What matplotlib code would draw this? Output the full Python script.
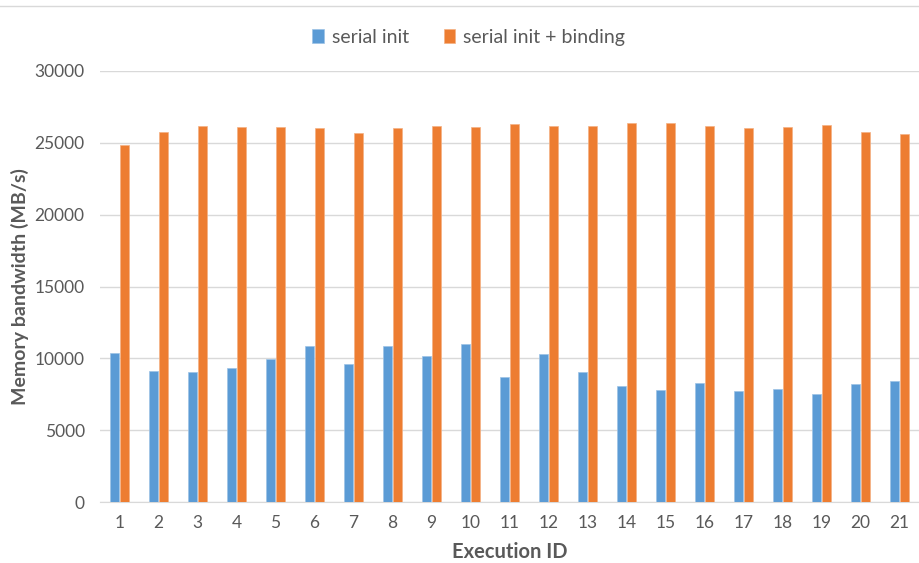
import numpy as np
import matplotlib.pyplot as plt
from matplotlib.lines import Line2D

ids = [str(i) for i in range(1, 22)]
serial_init = [10375, 9150, 9030, 9335, 9980, 10830, 9610, 10880, 10165, 11000, 8710,
               10280, 9080, 8060, 7780, 8250, 7740, 7880, 7485, 8225, 8455]
serial_binding = [24830, 25740, 26150, 26090, 26130, 26040, 25710, 26040, 26150, 26090, 26340,
                  26200, 26150, 26410, 26360, 26150, 26040, 26090, 26270, 25780, 25620]

plt.rcParams['font.family'] = ['Lato', 'DejaVu Sans']
text_color = '#595959'

fig = plt.figure(figsize=(9.19, 5.63), dpi=100)
ax = fig.add_axes([0.1088, 0.1083, 0.8912, 0.7656])

x = np.arange(len(ids))
w = 0.23
ax.bar(x - 0.135, serial_init, w, color='#5B9BD5', edgecolor='#9DC3E6', linewidth=0.5,
       label='serial init', zorder=3)
ax.bar(x + 0.135, serial_binding, w, color='#ED7D31', edgecolor='#F4B183', linewidth=0.5,
       label='serial init + binding', zorder=3)

ax.set_xlim(-0.5, len(ids) - 0.5)
ax.set_ylim(0, 30000)
ax.set_yticks(range(0, 30001, 5000))
ax.set_xticks(x)
ax.set_xticklabels(ids)
ax.yaxis.grid(True, color='#D9D9D9', linewidth=1, zorder=0)
for s in ['top', 'right', 'left']:
    ax.spines[s].set_visible(False)
ax.spines['bottom'].set_color('#D9D9D9')
ax.tick_params(axis='both', length=0, labelsize=12.5, colors=text_color)
ax.tick_params(axis='y', pad=11)
ax.tick_params(axis='x', pad=9)

ax.set_ylabel('Memory bandwidth (MB/s)', fontsize=14, fontweight='bold', color=text_color)
ax.yaxis.set_label_coords(-0.087, 0.5)
ax.set_xlabel('Execution ID', fontsize=14.5, fontweight='bold', color=text_color, labelpad=8)

fig.legend(loc='center', bbox_to_anchor=(0.51, 0.934), ncol=2, frameon=False,
           fontsize=14, labelcolor=text_color, handlelength=0.6, handleheight=0.7,
           handletextpad=0.4, columnspacing=1.8)

fig.add_artist(Line2D([0, 1], [1 - 6 / 563, 1 - 6 / 563], color='#D9D9D9', linewidth=1))

fig.savefig('out.png', dpi=100)
